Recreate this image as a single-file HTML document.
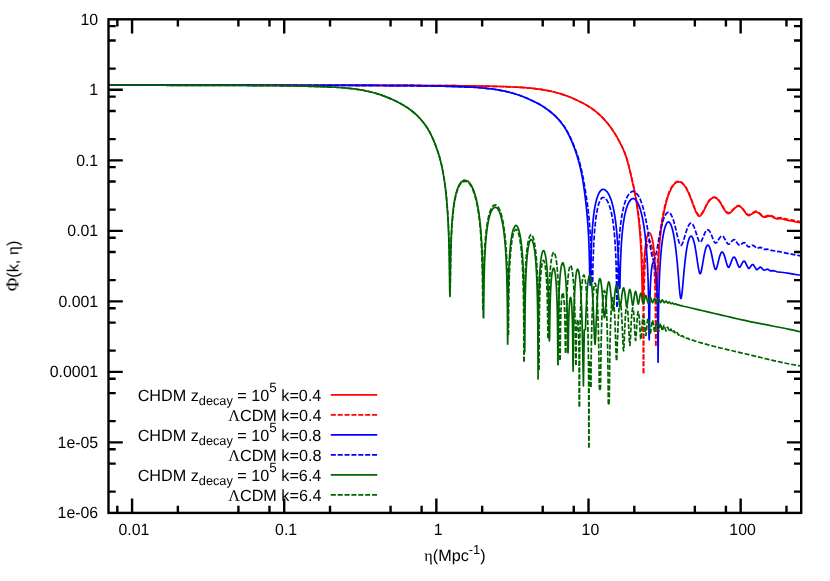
<!DOCTYPE html>
<html><head><meta charset="utf-8"><title>plot</title>
<style>
html,body{margin:0;padding:0;background:#fff;}
svg{display:block;}
text{text-rendering:geometricPrecision;font-family:"Liberation Sans",sans-serif;font-size:16.2px;fill:#000;}
</style></head><body>
<svg width="830" height="581" viewBox="0 0 830 581">
<rect width="830" height="581" fill="#fff"/>
<clipPath id="cp"><rect x="108.5" y="19.3" width="692.70" height="493.60"/></clipPath>
<g clip-path="url(#cp)" fill="none" stroke-linejoin="round" stroke-linecap="butt">
<path d="M108.50 85.19 L112.54 85.19 L116.58 85.19 L120.62 85.19 L124.67 85.19 L128.71 85.19 L132.75 85.19 L136.79 85.19 L140.83 85.19 L144.87 85.19 L148.91 85.19 L152.96 85.19 L157.00 85.19 L161.04 85.19 L165.08 85.19 L169.12 85.19 L173.16 85.19 L177.20 85.19 L181.25 85.19 L185.29 85.19 L189.33 85.19 L193.37 85.19 L197.41 85.20 L201.45 85.20 L205.49 85.20 L209.54 85.20 L213.58 85.20 L217.62 85.20 L221.66 85.20 L225.70 85.20 L229.74 85.20 L233.78 85.20 L237.83 85.20 L241.87 85.20 L245.91 85.20 L249.95 85.21 L253.99 85.21 L258.03 85.21 L262.07 85.21 L266.12 85.21 L270.16 85.21 L274.20 85.21 L278.24 85.22 L282.28 85.22 L286.32 85.22 L290.36 85.22 L294.41 85.22 L298.45 85.23 L302.49 85.23 L306.53 85.23 L310.57 85.23 L314.61 85.24 L318.65 85.24 L322.70 85.24 L326.74 85.25 L330.78 85.25 L334.82 85.25 L338.86 85.26 L342.90 85.26 L346.94 85.27 L350.99 85.27 L355.03 85.28 L359.07 85.29 L363.11 85.29 L367.15 85.30 L371.19 85.31 L375.23 85.32 L379.28 85.32 L383.32 85.33 L387.36 85.34 L391.40 85.35 L395.44 85.37 L399.48 85.38 L403.52 85.39 L407.57 85.41 L411.61 85.42 L415.65 85.44 L419.69 85.46 L423.73 85.48 L427.77 85.50 L431.81 85.52 L435.86 85.54 L439.90 85.57 L443.94 85.60 L447.98 85.63 L452.02 85.67 L456.06 85.71 L460.10 85.75 L464.15 85.80 L468.19 85.85 L472.23 85.90 L476.27 85.97 L480.31 86.03 L484.35 86.11 L488.39 86.20 L492.44 86.29 L496.48 86.40 L500.52 86.52 L504.56 86.66 L508.60 86.81 L512.64 86.99 L516.68 87.19 L520.73 87.41 L524.77 87.67 L528.81 87.99 L532.85 88.38 L536.89 88.86 L540.93 89.42 L544.97 90.08 L549.02 90.85 L552.94 91.72 L556.87 92.72 L560.79 93.86 L564.60 95.10 L568.41 96.50 L572.22 98.05 L575.92 99.68 L579.61 101.44 L583.19 103.24 L586.77 105.25 L590.24 107.43 L593.59 109.79 L596.82 112.35 L599.82 115.00 L602.71 117.82 L605.48 120.82 L608.14 124.01 L610.68 127.35 L612.99 130.69 L615.18 134.15 L617.26 137.68 L619.22 141.31 L621.07 144.95 L622.92 148.75 L624.53 152.55 L625.92 156.34 L627.19 160.43 L628.34 164.69 L629.38 168.82 L630.31 172.72 L631.23 176.79 L632.15 180.95 L633.08 185.07 L634.00 189.27 L634.81 193.29 L635.62 197.69 L636.31 201.82 L637.00 206.35 L637.58 210.50 L638.16 215.08 L638.62 219.14 L639.08 223.64 L639.54 228.68 L639.89 232.92 L640.24 237.65 L640.58 243.03 L640.81 247.07 L641.04 251.60 L641.28 256.74 L641.51 262.73 L641.74 269.92 L641.85 274.15 L641.97 278.97 L642.08 284.59 L642.20 291.36 L642.31 299.92 L642.68 303.00 L643.12 296.18 L643.24 289.28 L643.35 283.74 L643.47 279.13 L643.70 271.76 L643.93 266.02 L644.16 261.38 L644.51 255.79 L644.85 251.36 L645.32 246.72 L645.89 242.34 L646.70 238.01 L647.74 234.55 L648.43 233.30 L648.90 232.87 L649.36 232.76 L649.82 232.94 L650.51 233.77 L651.44 235.92 L652.48 239.99 L653.17 243.94 L653.75 248.24 L654.21 252.57 L654.67 258.02 L655.02 263.14 L655.25 267.25 L655.48 272.11 L655.71 277.99 L655.94 285.39 L656.06 289.93 L656.76 290.00 L657.44 289.82 L657.56 284.92 L657.67 280.67 L657.90 273.55 L658.13 267.71 L658.36 262.75 L658.60 258.43 L658.94 252.83 L659.29 248.02 L659.63 243.79 L660.10 238.84 L660.56 234.48 L661.14 229.67 L661.71 225.41 L662.41 220.85 L663.10 216.78 L663.91 212.52 L664.83 208.18 L665.87 203.85 L667.02 199.60 L668.29 195.54 L669.80 191.58 L671.64 187.77 L673.95 184.42 L676.72 182.21 L679.03 181.76 L681.46 182.60 L684.35 185.40 L686.54 188.82 L688.39 192.56 L690.00 196.41 L691.50 200.37 L692.89 204.20 L694.28 208.00 L695.78 211.71 L697.74 215.17 L698.78 216.06 L699.59 216.21 L700.51 215.82 L702.36 213.55 L704.21 209.99 L705.94 206.33 L707.90 202.69 L710.33 199.47 L712.75 197.76 L714.71 197.53 L716.68 198.37 L719.45 201.40 L721.64 204.97 L723.60 208.49 L725.80 211.85 L727.42 213.28 L728.57 213.56 L730.07 213.05 L732.96 210.19 L735.73 207.27 L737.81 206.15 L739.42 206.21 L741.39 207.50 L743.93 210.72 L746.35 214.02 L747.97 215.33 L749.24 215.57 L752.70 213.51 L755.24 211.99 L756.74 211.91 L758.94 213.16 L761.82 216.05 L763.67 217.23 L765.40 217.27 L769.22 215.86 L771.18 216.08 L774.64 218.17 L777.07 218.95 L781.11 218.53 L785.03 219.77 L788.96 220.70 L793.00 221.25 L796.93 222.23 L800.97 222.64 L801.20 222.67" stroke="#ff0000" stroke-width="1.7"/>
<g stroke="#ff0000" stroke-width="1.7"><path d="M108.50 85.19 L112.54 85.19 L116.58 85.19 L120.62 85.19 L124.67 85.19 L128.71 85.19 L132.75 85.19 L136.79 85.19 L140.83 85.19 L144.87 85.19 L148.91 85.19 L152.96 85.19 L157.00 85.19 L161.04 85.19 L165.08 85.19 L169.12 85.19 L173.16 85.19 L177.20 85.19 L181.25 85.19 L185.29 85.19 L189.33 85.19 L193.37 85.19 L197.41 85.20 L201.45 85.20 L205.49 85.20 L209.54 85.20 L213.58 85.20 L217.62 85.20 L221.66 85.20 L225.70 85.20 L229.74 85.20 L233.78 85.20 L237.83 85.20 L241.87 85.20 L245.91 85.20 L249.95 85.21 L253.99 85.21 L258.03 85.21 L262.07 85.21 L266.12 85.21 L270.16 85.21 L274.20 85.21 L278.24 85.22 L282.28 85.22 L286.32 85.22 L290.36 85.22 L294.41 85.22 L298.45 85.23 L302.49 85.23 L306.53 85.23 L310.57 85.23 L314.61 85.24 L318.65 85.24 L322.70 85.24 L326.74 85.25 L330.78 85.25 L334.82 85.25 L338.86 85.26 L342.90 85.26 L346.94 85.27 L350.99 85.27 L355.03 85.28 L359.07 85.29 L363.11 85.29 L367.15 85.30 L371.19 85.31 L375.23 85.32 L379.28 85.32 L383.32 85.33 L387.36 85.34 L391.40 85.35 L395.44 85.37 L399.48 85.38 L403.52 85.39 L407.57 85.41 L411.61 85.42 L415.65 85.44 L419.69 85.46 L423.73 85.48 L427.77 85.50 L431.81 85.52 L435.86 85.54 L439.90 85.57 L443.94 85.60 L447.98 85.63 L452.02 85.67 L456.06 85.71 L460.10 85.75 L464.15 85.80 L468.19 85.85 L472.23 85.90 L476.27 85.97 L480.31 86.03 L484.35 86.11 L488.39 86.20 L492.44 86.29 L496.48 86.40 L500.52 86.52 L504.56 86.66 L508.60 86.81 L512.64 86.99 L516.68 87.19 L520.73 87.41 L524.77 87.67 L528.81 87.99 L532.85 88.38 L536.89 88.86 L540.93 89.42 L544.97 90.08 L549.02 90.85 L552.94 91.72 L556.87 92.72 L560.79 93.86 L564.60 95.10 L568.41 96.50 L572.22 98.05 L575.92 99.68 L579.61 101.44 L583.19 103.24 L586.77 105.25 L590.24 107.43 L593.59 109.79 L596.82 112.35 L599.82 115.00 L602.71 117.82 L605.48 120.82 L608.14 124.00 L610.68 127.33 L612.99 130.65 L615.18 134.05 L617.26 137.52 L619.22 141.07 L621.07 144.64 L622.92 148.35 L624.53 152.07 L626.03 156.11 L627.30 160.16 L628.46 164.35 L629.50 168.41 L630.54 172.70 L631.46 176.65 L632.38 180.65 L633.31 184.55 L634.23 188.62 L635.16 193.07 L635.96 197.34 L636.66 201.31 L637.35 205.65 L638.04 210.41 L638.62 214.82 L639.20 219.71 L639.66 224.05 L640.12 228.88 L640.47 232.89 L640.81 237.31 L641.16 242.25 L641.51 247.87 L641.74 252.10 L641.97 256.85 L642.20 262.26 L642.43 268.63 L642.66 276.43 L642.78 281.12 L642.89 286.56 L643.01 293.08 L643.12 301.21 L643.24 312.10 L643.35 328.78 L643.47 366.84 L643.52 373.20" stroke-dasharray="5.001 1.850"/><path d="M643.52 373.20 L643.58 356.06 L643.70 325.96 L643.82 311.29 L643.93 301.58 L644.05 294.35 L644.16 288.61 L644.28 283.88 L644.39 279.86 L644.62 273.32 L644.85 268.18 L645.09 263.97 L645.43 258.92 L645.89 253.79 L646.47 249.08 L647.16 245.12 L648.09 241.90 L648.67 240.84 L649.13 240.46 L649.47 240.44 L649.94 240.75 L650.51 241.66 L651.32 243.99 L652.24 248.40 L652.82 252.40 L653.28 256.52 L653.75 261.80 L654.09 266.83 L654.32 270.89 L654.55 275.76 L654.78 281.74 L655.02 289.42 L655.13 294.24 L655.25 300.04 L655.36 307.30 L655.48 316.94 L655.59 331.18 L655.79 345.80" stroke-dasharray="5.042 1.866"/><path d="M655.79 345.80 L655.94 338.08 L656.06 320.76 L656.17 309.71 L656.29 301.57 L656.40 295.10 L656.52 289.74 L656.63 285.15 L656.75 281.13 L656.98 274.35 L657.21 268.73 L657.44 263.93 L657.67 259.73 L658.02 254.28 L658.36 249.56 L658.71 245.41 L659.17 240.53 L659.63 236.22 L660.21 231.45 L660.79 227.22 L661.48 222.68 L662.18 218.61 L662.98 214.33 L663.91 209.94 L664.83 206.00 L665.87 202.02 L667.02 198.06 L668.29 194.25 L669.80 190.50 L671.64 186.89 L674.07 183.57 L676.84 181.55 L679.26 181.23 L681.80 182.30 L684.69 185.31 L686.89 188.88 L688.73 192.70 L690.35 196.58 L691.85 200.53 L693.24 204.30 L694.74 208.25 L696.47 212.12 L698.09 214.48 L699.01 215.09 L699.82 215.14 L700.86 214.56 L703.17 211.27 L705.01 207.57 L706.86 203.85 L709.06 200.44 L711.94 197.66 L714.02 197.01 L715.98 197.47 L718.75 199.94 L721.06 203.39 L723.14 207.04 L725.34 210.55 L727.18 212.41 L728.45 212.81 L729.84 212.46 L732.84 209.69 L735.61 206.80 L737.69 205.64 L739.31 205.64 L741.16 206.72 L743.81 209.93 L746.24 213.19 L747.97 214.60 L749.24 214.82 L752.70 212.81 L755.36 211.28 L756.98 211.30 L760.21 213.66 L763.10 216.17 L764.71 216.54 L768.52 215.23 L770.49 215.08 L774.06 216.96 L776.72 218.03 L780.76 217.64 L784.69 218.68 L788.61 219.71 L792.66 220.16 L796.58 221.15 L800.62 221.55 L801.20 221.63" stroke-dasharray="5.018 1.857"/></g>
<path d="M108.50 85.19 L112.54 85.19 L116.58 85.19 L120.62 85.19 L124.67 85.19 L128.71 85.19 L132.75 85.19 L136.79 85.19 L140.83 85.19 L144.87 85.19 L148.91 85.20 L152.96 85.20 L157.00 85.20 L161.04 85.20 L165.08 85.20 L169.12 85.20 L173.16 85.20 L177.20 85.20 L181.25 85.20 L185.29 85.20 L189.33 85.20 L193.37 85.20 L197.41 85.20 L201.45 85.20 L205.49 85.21 L209.54 85.21 L213.58 85.21 L217.62 85.21 L221.66 85.21 L225.70 85.21 L229.74 85.21 L233.78 85.22 L237.83 85.22 L241.87 85.22 L245.91 85.22 L249.95 85.22 L253.99 85.23 L258.03 85.23 L262.07 85.23 L266.12 85.23 L270.16 85.24 L274.20 85.24 L278.24 85.24 L282.28 85.25 L286.32 85.25 L290.36 85.26 L294.41 85.26 L298.45 85.27 L302.49 85.27 L306.53 85.28 L310.57 85.28 L314.61 85.29 L318.65 85.30 L322.70 85.30 L326.74 85.31 L330.78 85.32 L334.82 85.33 L338.86 85.34 L342.90 85.35 L346.94 85.36 L350.99 85.37 L355.03 85.38 L359.07 85.40 L363.11 85.41 L367.15 85.43 L371.19 85.44 L375.23 85.46 L379.28 85.48 L383.32 85.50 L387.36 85.53 L391.40 85.55 L395.44 85.58 L399.48 85.61 L403.52 85.64 L407.57 85.68 L411.61 85.72 L415.65 85.76 L419.69 85.81 L423.73 85.86 L427.77 85.92 L431.81 85.99 L435.86 86.06 L439.90 86.14 L443.94 86.23 L447.98 86.33 L452.02 86.44 L456.06 86.57 L460.10 86.71 L464.15 86.87 L468.19 87.05 L472.23 87.26 L476.27 87.50 L480.31 87.77 L484.35 88.12 L488.39 88.53 L492.44 89.03 L496.48 89.62 L500.52 90.32 L504.44 91.11 L508.37 92.02 L512.30 93.06 L516.22 94.24 L520.03 95.54 L523.84 96.98 L527.54 98.53 L531.23 100.20 L534.93 101.98 L538.51 103.84 L541.97 105.84 L545.44 108.08 L548.78 110.50 L551.90 113.01 L554.90 115.71 L557.79 118.64 L560.45 121.72 L562.87 124.90 L565.18 128.37 L567.26 131.96 L569.11 135.55 L570.84 139.28 L572.46 143.09 L573.96 146.89 L575.46 150.93 L576.84 154.97 L578.11 159.16 L579.27 163.44 L580.31 167.75 L581.23 172.02 L582.04 176.14 L582.85 180.67 L583.54 184.95 L584.23 189.64 L584.81 193.91 L585.39 198.55 L585.85 202.58 L586.31 206.90 L586.77 211.55 L587.24 216.56 L587.58 220.65 L587.93 225.29 L588.27 230.65 L588.51 234.78 L588.74 239.48 L588.97 244.97 L589.20 251.57 L589.43 259.87 L589.54 265.01 L589.66 271.14 L589.78 278.75 L590.19 285.30 L590.58 280.22 L590.70 272.42 L590.82 266.22 L590.93 261.09 L591.05 256.70 L591.28 249.49 L591.51 243.70 L591.74 238.86 L591.97 234.72 L592.32 229.46 L592.66 225.04 L593.12 220.08 L593.59 215.93 L594.16 211.56 L594.86 207.23 L595.66 203.13 L596.70 198.97 L598.09 194.90 L600.05 191.26 L601.78 189.63 L603.17 189.24 L605.02 189.78 L607.21 191.82 L609.29 195.31 L610.91 199.27 L612.18 203.37 L613.22 207.56 L614.02 211.48 L614.72 215.44 L615.41 220.11 L615.99 224.73 L616.45 229.05 L616.91 234.13 L617.26 238.61 L617.60 243.86 L617.83 247.94 L618.07 252.65 L618.30 258.21 L618.53 265.00 L618.64 269.06 L618.76 273.72 L618.87 279.22 L618.99 285.93 L619.46 288.50 L619.91 287.77 L620.03 280.81 L620.14 275.15 L620.26 270.39 L620.38 266.29 L620.61 259.46 L620.84 253.91 L621.07 249.25 L621.30 245.24 L621.65 240.11 L621.99 235.77 L622.45 230.89 L622.92 226.78 L623.49 222.43 L624.19 218.09 L624.99 213.93 L626.03 209.66 L627.30 205.66 L629.04 201.87 L631.00 199.38 L632.50 198.57 L633.89 198.62 L635.50 199.63 L637.58 202.48 L639.31 206.38 L640.58 210.27 L641.62 214.24 L642.55 218.48 L643.35 222.87 L644.05 227.25 L644.62 231.42 L645.20 236.19 L645.66 240.55 L646.12 245.50 L646.47 249.70 L646.82 254.45 L647.16 259.90 L647.39 264.03 L647.63 268.69 L647.86 274.03 L648.09 280.31 L648.32 287.94 L648.43 292.49 L648.55 297.73 L648.67 303.94 L648.78 311.57 L648.90 321.53 L649.01 336.01 L649.21 339.80 L649.47 328.18 L649.59 317.48 L649.70 309.74 L649.82 303.71 L649.94 298.80 L650.05 294.68 L650.28 288.08 L650.51 282.97 L650.74 278.87 L651.09 274.06 L651.55 269.37 L652.24 264.88 L652.82 262.82 L653.17 262.19 L653.40 262.01 L653.63 262.00 L653.86 262.18 L654.21 262.78 L654.78 264.72 L655.48 268.82 L655.94 272.96 L656.29 277.11 L656.63 282.51 L656.86 287.10 L657.09 292.85 L657.33 300.36 L657.44 305.12 L657.56 310.90 L657.67 318.20 L657.79 328.05 L657.90 343.02 L658.08 362.20 L658.25 344.28 L658.36 327.97 L658.48 317.25 L658.60 309.22 L658.71 302.79 L658.83 297.41 L658.94 292.79 L659.06 288.73 L659.29 281.85 L659.52 276.13 L659.75 271.24 L659.98 266.98 L660.33 261.45 L660.67 256.73 L661.02 252.61 L661.48 247.86 L661.94 243.79 L662.52 239.44 L663.21 235.12 L664.02 231.05 L665.06 227.10 L666.45 223.69 L667.49 222.34 L668.18 221.97 L668.87 222.03 L669.68 222.64 L670.84 224.55 L672.22 228.55 L673.26 232.87 L674.07 237.11 L674.76 241.41 L675.34 245.51 L675.92 250.13 L676.38 254.21 L676.84 258.65 L677.30 263.45 L677.76 268.61 L678.11 272.67 L678.46 276.87 L678.80 281.12 L679.15 285.32 L679.50 289.31 L679.96 293.93 L680.42 297.18 L680.65 298.11 L680.77 298.38 L680.88 298.51 L681.00 298.50 L681.11 298.35 L681.34 297.66 L681.92 293.99 L682.38 289.64 L682.84 284.62 L683.31 279.38 L683.77 274.21 L684.23 269.27 L684.69 264.65 L685.15 260.41 L685.73 255.63 L686.31 251.43 L687.00 247.13 L687.81 243.08 L688.96 238.96 L689.89 237.00 L690.58 236.27 L691.04 236.12 L691.50 236.24 L692.08 236.79 L693.01 238.59 L694.16 242.43 L695.08 246.74 L695.89 251.35 L696.58 255.82 L697.28 260.56 L697.97 265.25 L698.66 269.40 L699.36 272.40 L699.70 273.28 L699.93 273.60 L700.16 273.70 L700.40 273.57 L700.74 272.98 L701.55 270.03 L702.36 265.65 L703.05 261.47 L703.74 257.39 L704.55 253.13 L705.59 248.85 L706.63 246.14 L707.21 245.37 L707.67 245.12 L708.13 245.15 L708.71 245.60 L709.52 246.98 L710.79 250.85 L711.71 254.79 L712.52 258.75 L713.33 262.79 L714.25 266.76 L714.94 268.70 L715.29 269.20 L715.52 269.35 L715.75 269.34 L716.10 269.03 L716.68 267.84 L717.83 263.68 L718.75 259.78 L719.91 255.56 L720.95 253.05 L721.53 252.30 L721.99 252.05 L722.45 252.10 L723.03 252.61 L723.95 254.38 L725.22 258.36 L726.26 262.25 L727.53 266.16 L728.11 267.10 L728.45 267.31 L728.80 267.27 L729.26 266.82 L730.88 262.86 L732.26 259.08 L733.19 257.50 L733.77 257.08 L734.23 257.07 L734.81 257.48 L735.84 259.29 L737.23 263.09 L738.50 266.28 L739.08 267.08 L739.42 267.27 L739.77 267.25 L740.23 266.89 L742.20 263.13 L743.23 261.50 L743.81 261.11 L744.27 261.11 L744.85 261.51 L746.70 265.10 L747.97 267.74 L748.55 268.33 L748.89 268.43 L749.35 268.27 L751.78 265.04 L752.47 264.57 L752.93 264.56 L753.51 264.90 L755.59 268.33 L756.40 269.44 L756.86 269.72 L757.32 269.69 L759.75 267.31 L760.32 267.14 L761.02 267.35 L763.56 269.98 L764.25 270.24 L767.02 269.18 L767.94 269.34 L770.49 270.90 L773.83 270.68 L777.07 271.79 L781.11 272.25 L785.15 272.78 L789.19 273.46 L793.23 274.13 L797.27 274.72 L801.20 275.26" stroke="#0000ff" stroke-width="1.7"/>
<g stroke="#0000ff" stroke-width="1.7"><path d="M108.50 85.19 L112.54 85.19 L116.58 85.19 L120.62 85.19 L124.67 85.19 L128.71 85.19 L132.75 85.19 L136.79 85.19 L140.83 85.19 L144.87 85.19 L148.91 85.20 L152.96 85.20 L157.00 85.20 L161.04 85.20 L165.08 85.20 L169.12 85.20 L173.16 85.20 L177.20 85.20 L181.25 85.20 L185.29 85.20 L189.33 85.20 L193.37 85.20 L197.41 85.20 L201.45 85.20 L205.49 85.21 L209.54 85.21 L213.58 85.21 L217.62 85.21 L221.66 85.21 L225.70 85.21 L229.74 85.21 L233.78 85.22 L237.83 85.22 L241.87 85.22 L245.91 85.22 L249.95 85.22 L253.99 85.23 L258.03 85.23 L262.07 85.23 L266.12 85.23 L270.16 85.24 L274.20 85.24 L278.24 85.24 L282.28 85.25 L286.32 85.25 L290.36 85.26 L294.41 85.26 L298.45 85.27 L302.49 85.27 L306.53 85.28 L310.57 85.28 L314.61 85.29 L318.65 85.30 L322.70 85.30 L326.74 85.31 L330.78 85.32 L334.82 85.33 L338.86 85.34 L342.90 85.35 L346.94 85.36 L350.99 85.37 L355.03 85.38 L359.07 85.40 L363.11 85.41 L367.15 85.43 L371.19 85.44 L375.23 85.46 L379.28 85.48 L383.32 85.50 L387.36 85.53 L391.40 85.55 L395.44 85.58 L399.48 85.61 L403.52 85.64 L407.57 85.68 L411.61 85.72 L415.65 85.76 L419.69 85.81 L423.73 85.86 L427.77 85.92 L431.81 85.99 L435.86 86.06 L439.90 86.14 L443.94 86.23 L447.98 86.33 L452.02 86.44 L456.06 86.57 L460.10 86.71 L464.15 86.87 L468.19 87.05 L472.23 87.26 L476.27 87.50 L480.31 87.77 L484.35 88.12 L488.39 88.53 L492.44 89.03 L496.48 89.62 L500.52 90.32 L504.44 91.11 L508.37 92.02 L512.30 93.06 L516.22 94.24 L520.03 95.54 L523.84 96.98 L527.54 98.53 L531.23 100.20 L534.93 101.98 L538.51 103.84 L541.97 105.84 L545.44 108.07 L548.78 110.48 L552.02 113.07 L555.02 115.74 L557.91 118.62 L560.56 121.62 L563.10 124.88 L565.41 128.31 L567.49 131.85 L569.45 135.60 L571.19 139.26 L572.80 142.96 L574.42 146.93 L575.92 150.80 L577.31 154.73 L578.58 158.77 L579.73 162.86 L580.77 166.94 L581.69 170.91 L582.62 175.24 L583.43 179.37 L584.23 183.83 L584.93 187.93 L585.62 192.29 L586.31 196.89 L586.89 200.88 L587.47 204.97 L588.04 209.43 L588.51 213.43 L588.97 217.92 L589.43 223.05 L589.78 227.45 L590.12 232.48 L590.47 238.37 L590.70 242.96 L590.93 248.27 L591.16 254.61 L591.39 262.48 L591.51 267.28 L591.62 272.92 L591.74 279.78 L592.21 282.00" stroke-dasharray="4.990 1.846"/><path d="M592.21 282.00 L592.66 281.39 L592.78 274.47 L592.89 268.83 L593.01 264.07 L593.12 259.95 L593.36 253.09 L593.59 247.50 L593.82 242.80 L594.05 238.74 L594.39 233.56 L594.74 229.18 L595.20 224.26 L595.66 220.14 L596.24 215.82 L596.93 211.58 L597.74 207.63 L598.78 203.75 L600.28 200.00 L601.67 198.06 L602.59 197.48 L603.86 197.50 L605.48 198.47 L607.44 201.10 L609.17 204.98 L610.44 209.00 L611.48 213.29 L612.29 217.44 L612.99 221.76 L613.56 226.08 L614.02 230.16 L614.49 234.99 L614.83 239.27 L615.18 244.33 L615.53 250.47 L615.76 255.42 L615.99 261.37 L616.22 268.82 L616.33 273.38 L616.45 278.75 L616.56 285.29 L616.68 293.63 L616.80 305.16 L617.05 306.80" stroke-dasharray="5.069 1.876"/><path d="M617.05 306.80 L617.37 297.17 L617.49 287.85 L617.60 280.72 L617.72 274.94 L617.83 270.08 L617.95 265.90 L618.18 258.94 L618.41 253.28 L618.64 248.53 L618.87 244.42 L619.22 239.17 L619.57 234.71 L620.03 229.68 L620.49 225.40 L621.07 220.86 L621.76 216.27 L622.57 211.82 L623.49 207.61 L624.53 203.74 L625.92 199.66 L627.65 195.93 L630.07 192.69 L632.15 191.46 L633.89 191.42 L635.85 192.50 L638.39 195.69 L640.24 199.41 L641.74 203.39 L643.01 207.51 L644.05 211.45 L644.97 215.41 L645.89 219.83 L646.70 224.08 L647.51 228.69 L648.20 232.90 L648.90 237.32 L649.59 241.86 L650.28 246.39 L650.97 250.72 L651.78 255.13 L652.71 258.65 L653.17 259.57 L653.51 259.88 L653.75 259.93 L654.09 259.75 L654.55 259.06 L655.59 255.86 L656.52 251.63 L657.33 247.34 L658.13 242.86 L658.94 238.44 L659.75 234.22 L660.67 229.78 L661.60 225.82 L662.75 221.57 L664.14 217.54 L665.99 213.95 L667.37 212.56 L668.41 212.21 L669.33 212.46 L670.49 213.55 L672.34 217.08 L673.72 221.13 L674.88 225.33 L675.92 229.62 L676.84 233.66 L677.76 237.63 L678.80 241.58 L679.84 244.34 L680.42 245.15 L680.77 245.35 L681.11 245.33 L681.69 244.84 L682.73 242.86 L684.00 239.07 L685.15 235.06 L686.31 231.18 L687.69 227.27 L689.31 224.25 L690.23 223.38 L691.04 223.15 L691.74 223.35 L692.66 224.24 L694.39 227.72 L695.78 231.85 L697.05 236.05 L698.43 240.03 L699.36 241.68 L699.82 242.06 L700.28 242.14 L700.74 241.90 L701.67 240.63 L703.28 236.88 L704.78 233.15 L706.28 230.53 L707.09 229.86 L707.79 229.73 L708.59 230.04 L709.75 231.38 L711.48 235.03 L712.98 238.94 L714.48 242.07 L715.18 242.82 L715.64 243.01 L716.10 242.95 L716.91 242.30 L719.10 238.70 L720.72 236.44 L721.64 235.87 L722.45 235.91 L723.37 236.57 L725.45 240.02 L727.42 243.48 L728.22 244.16 L728.80 244.26 L729.49 243.99 L732.15 240.81 L733.30 239.82 L734.00 239.65 L734.81 239.92 L737.35 243.17 L738.73 244.84 L739.42 245.18 L740.23 245.08 L743.23 242.73 L744.04 242.58 L744.85 242.91 L747.51 246.12 L748.43 246.89 L749.12 247.02 L752.13 245.30 L752.93 245.27 L754.09 245.94 L756.40 248.15 L757.21 248.38 L759.98 247.35 L761.13 247.59 L763.90 249.28 L767.60 249.18 L771.18 250.44 L775.22 250.97 L779.26 251.67 L783.19 252.53 L787.23 253.31 L791.27 254.06 L795.31 254.85 L799.24 255.66 L801.20 256.11" stroke-dasharray="4.987 1.845"/></g>
<path d="M108.50 85.22 L112.54 85.23 L116.58 85.23 L120.62 85.23 L124.66 85.23 L128.71 85.24 L132.75 85.24 L136.79 85.24 L140.83 85.25 L144.87 85.25 L148.91 85.25 L152.95 85.26 L156.99 85.26 L161.03 85.27 L165.08 85.27 L169.12 85.28 L173.16 85.28 L177.20 85.29 L181.24 85.30 L185.28 85.31 L189.32 85.31 L193.36 85.32 L197.40 85.33 L201.44 85.34 L205.49 85.35 L209.53 85.36 L213.57 85.37 L217.61 85.39 L221.65 85.40 L225.69 85.41 L229.73 85.43 L233.77 85.45 L237.81 85.46 L241.86 85.48 L245.90 85.51 L249.94 85.53 L253.98 85.56 L258.02 85.58 L262.06 85.61 L266.10 85.65 L270.14 85.68 L274.18 85.72 L278.23 85.77 L282.27 85.81 L286.31 85.87 L290.35 85.93 L294.39 85.99 L298.43 86.06 L302.47 86.14 L306.51 86.23 L310.55 86.33 L314.60 86.44 L318.64 86.57 L322.68 86.71 L326.72 86.87 L330.76 87.05 L334.80 87.26 L338.84 87.50 L342.88 87.77 L346.92 88.12 L350.91 88.53 L354.89 89.02 L358.87 89.60 L362.86 90.28 L366.78 91.06 L370.71 91.96 L374.63 92.99 L378.50 94.14 L382.31 95.43 L386.06 96.84 L389.82 98.39 L393.51 100.05 L397.15 101.80 L400.73 103.64 L404.25 105.66 L407.66 107.85 L410.95 110.23 L414.06 112.75 L417.07 115.49 L419.89 118.39 L422.55 121.47 L425.03 124.71 L427.28 128.04 L429.36 131.55 L431.21 135.10 L432.94 138.84 L434.50 142.57 L435.94 146.35 L437.33 150.27 L438.60 154.11 L439.75 158.02 L440.79 162.01 L441.72 166.00 L442.58 170.21 L443.33 174.30 L444.03 178.51 L444.66 182.83 L445.24 187.22 L445.76 191.63 L446.22 196.02 L446.62 200.30 L446.97 204.38 L447.32 208.93 L447.60 213.16 L447.89 217.92 L448.12 222.20 L448.36 227.02 L448.53 231.09 L448.70 235.67 L448.87 240.91 L449.05 247.05 L449.16 251.83 L449.28 257.38 L449.39 264.01 L449.51 272.28 L449.57 277.35 L449.63 283.36 L449.68 290.75 L449.90 296.50 L450.09 296.25 L450.15 288.04 L450.20 281.59 L450.26 276.28 L450.32 271.77 L450.43 264.38 L450.55 258.46 L450.66 253.54 L450.78 249.31 L450.95 243.95 L451.13 239.38 L451.30 235.23 L451.53 230.49 L451.76 226.45 L452.05 222.12 L452.40 217.71 L452.80 213.36 L453.26 209.18 L453.78 205.21 L454.42 201.16 L455.17 197.20 L456.09 193.26 L457.25 189.40 L458.75 185.68 L460.88 182.24 L464.29 180.05 L468.16 181.30 L470.75 184.42 L472.66 188.05 L474.16 191.88 L475.37 195.74 L476.41 199.74 L477.28 203.67 L478.03 207.64 L478.72 211.88 L479.30 215.96 L479.82 220.18 L480.28 224.48 L480.68 228.79 L481.03 233.03 L481.32 237.04 L481.61 241.64 L481.84 245.86 L482.07 250.72 L482.24 254.93 L482.42 259.77 L482.59 265.50 L482.70 269.99 L482.82 275.22 L482.94 281.51 L483.05 289.39 L483.11 294.23 L483.17 299.96 L483.22 307.01 L483.28 316.14 L483.45 317.80 L483.63 317.73 L483.69 309.34 L483.74 302.78 L483.80 297.39 L483.86 292.82 L483.97 285.35 L484.09 279.38 L484.21 274.41 L484.32 270.15 L484.49 264.74 L484.67 260.19 L484.90 255.06 L485.13 250.72 L485.42 246.10 L485.76 241.44 L486.17 236.88 L486.63 232.52 L487.15 228.42 L487.78 224.27 L488.54 220.28 L489.52 216.18 L490.79 212.29 L492.69 208.67 L495.12 207.07 L497.43 208.34 L499.45 211.81 L500.77 215.67 L501.81 219.76 L502.62 223.77 L503.31 227.94 L503.89 232.09 L504.41 236.49 L504.82 240.48 L505.22 245.12 L505.57 249.78 L505.85 254.30 L506.09 258.47 L506.32 263.29 L506.49 267.47 L506.66 272.31 L506.84 278.03 L506.95 282.52 L507.07 287.78 L507.18 294.10 L507.30 302.05 L507.36 306.95 L507.41 312.76 L507.47 319.93 L507.53 329.29 L507.59 342.79 L507.69 344.20 L507.82 337.15 L507.87 325.66 L507.93 317.35 L507.99 310.84 L508.05 305.48 L508.11 300.94 L508.22 293.51 L508.34 287.58 L508.45 282.64 L508.57 278.42 L508.74 273.06 L508.91 268.55 L509.14 263.49 L509.38 259.23 L509.66 254.72 L510.01 250.21 L510.41 245.84 L510.88 241.74 L511.45 237.60 L512.20 233.45 L513.24 229.41 L515.09 225.80 L516.13 225.42 L517.46 226.62 L518.96 230.42 L519.94 234.59 L520.63 238.56 L521.21 242.71 L521.67 246.73 L522.08 250.92 L522.42 255.14 L522.71 259.23 L523.00 264.02 L523.23 268.52 L523.46 273.81 L523.64 278.49 L523.81 284.02 L523.92 288.34 L524.04 293.38 L524.15 299.39 L524.27 306.86 L524.33 311.40 L524.39 316.72 L524.44 323.15 L524.50 331.29 L524.56 342.37 L524.69 352.00 L524.79 351.86 L524.85 337.72 L524.91 328.11 L524.96 320.83 L525.02 314.97 L525.08 310.06 L525.14 305.85 L525.25 298.89 L525.37 293.26 L525.48 288.54 L525.60 284.50 L525.77 279.34 L525.94 275.00 L526.18 270.13 L526.41 266.04 L526.69 261.73 L527.04 257.45 L527.45 253.39 L527.96 249.24 L528.66 245.15 L529.70 241.28 L530.79 239.52 L531.43 239.46 L532.47 240.84 L533.62 244.73 L534.37 248.86 L534.95 253.16 L535.41 257.52 L535.82 262.21 L536.10 266.22 L536.39 270.97 L536.62 275.46 L536.86 280.79 L537.03 285.53 L537.20 291.18 L537.32 295.63 L537.43 300.84 L537.55 307.11 L537.66 315.00 L537.72 319.87 L537.78 325.64 L537.84 332.75 L537.89 342.00 L537.95 355.29 L538.06 378.90 L538.13 369.78 L538.18 350.72 L538.24 339.09 L538.30 330.70 L538.36 324.15 L538.41 318.77 L538.47 314.21 L538.59 306.78 L538.70 300.85 L538.82 295.94 L538.93 291.75 L539.11 286.45 L539.28 282.03 L539.51 277.10 L539.74 273.00 L540.03 268.73 L540.38 264.55 L540.84 260.18 L541.42 256.15 L542.34 252.17 L543.21 250.61 L543.67 250.56 L544.42 251.61 L545.46 255.50 L546.09 259.52 L546.61 263.99 L547.02 268.40 L547.36 273.04 L547.65 277.70 L547.88 282.11 L548.11 287.32 L548.29 291.95 L548.46 297.41 L548.57 301.67 L548.69 306.62 L548.81 312.50 L548.92 319.74 L548.98 324.11 L549.04 329.18 L549.09 335.24 L549.36 341.00 L549.61 337.73 L549.67 331.53 L549.73 326.41 L549.79 322.06 L549.90 314.94 L550.02 309.26 L550.13 304.56 L550.31 298.79 L550.48 294.09 L550.71 289.00 L550.94 284.88 L551.23 280.73 L551.63 276.30 L552.15 272.33 L553.14 268.60 L553.54 268.22 L553.89 268.38 L554.58 270.07 L555.33 274.39 L555.79 278.70 L556.14 283.07 L556.43 287.70 L556.66 292.30 L556.83 296.44 L557.00 301.40 L557.18 307.48 L557.29 312.43 L557.41 318.43 L557.52 325.99 L557.58 330.64 L557.64 336.15 L557.70 342.91 L557.75 351.63 L557.81 363.91 L557.93 364.70 L558.04 364.39 L558.10 351.86 L558.16 342.99 L558.22 336.11 L558.27 330.50 L558.33 325.77 L558.39 321.67 L558.50 314.84 L558.62 309.28 L558.73 304.61 L558.85 300.58 L559.02 295.44 L559.20 291.12 L559.43 286.28 L559.66 282.24 L559.95 278.05 L560.29 273.99 L560.76 269.82 L561.45 265.61 L562.37 262.98 L562.78 262.76 L563.24 263.16 L564.33 267.06 L564.97 271.46 L565.43 275.92 L565.78 280.14 L566.07 284.38 L566.36 289.45 L566.59 294.29 L566.76 298.51 L566.93 303.40 L567.11 309.16 L567.22 313.67 L567.34 318.90 L567.45 325.11 L567.57 332.79 L567.63 337.43 L567.68 342.84 L567.74 349.35 L567.99 353.00 L568.26 349.27 L568.32 343.54 L568.38 338.81 L568.43 334.78 L568.55 328.21 L568.66 323.02 L568.78 318.78 L568.95 313.68 L569.13 309.67 L569.36 305.55 L569.70 301.26 L570.28 297.74 L570.51 297.36 L570.63 297.38 L570.92 298.02 L571.49 302.22 L571.84 307.13 L572.07 311.86 L572.24 316.49 L572.42 322.48 L572.53 327.56 L572.65 333.95 L572.76 342.41 L572.82 347.87 L572.88 354.65 L572.94 363.52 L573.10 371.20 L573.28 360.23 L573.34 351.53 L573.40 344.70 L573.46 339.07 L573.51 334.29 L573.57 330.13 L573.69 323.13 L573.80 317.39 L573.92 312.53 L574.03 308.31 L574.21 302.90 L574.38 298.31 L574.61 293.16 L574.84 288.84 L575.13 284.35 L575.48 279.99 L575.94 275.57 L576.57 271.55 L577.32 269.31 L577.61 269.11 L577.96 269.34 L578.82 272.08 L579.46 276.19 L579.92 280.44 L580.27 284.43 L580.61 289.21 L580.90 293.90 L581.13 298.18 L581.36 303.03 L581.54 307.09 L581.71 311.57 L581.88 316.55 L582.06 322.12 L582.17 326.23 L583.43 386.00 L584.26 330.00 L585.46 329.65 L585.58 325.46 L585.75 319.81 L585.93 314.80 L586.10 310.31 L586.27 306.27 L586.50 301.49 L586.73 297.28 L587.02 292.73 L587.37 288.16 L587.77 283.86 L588.29 279.74 L589.22 275.80 L589.62 275.31 L589.91 275.39 L590.54 276.86 L591.29 281.02 L591.76 285.06 L592.16 289.65 L592.51 294.47 L592.80 299.17 L593.03 303.43 L593.26 308.13 L593.49 313.28 L593.66 317.43 L593.83 321.78 L594.01 326.25 L594.18 330.74 L594.35 335.04 L594.59 340.02 L594.87 343.88 L594.99 344.38 L595.05 344.38 L595.22 343.41 L595.51 339.11 L595.74 334.08 L595.91 329.84 L596.09 325.47 L596.26 321.13 L596.43 316.93 L596.61 312.91 L596.84 307.91 L597.07 303.35 L597.30 299.23 L597.59 294.69 L597.93 290.07 L598.34 285.75 L598.86 281.75 L599.61 278.83 L599.90 278.55 L600.13 278.67 L600.76 280.53 L601.40 284.59 L601.86 288.89 L602.26 293.49 L602.61 297.96 L602.96 302.75 L603.24 306.79 L603.59 311.34 L603.99 315.52 L604.34 317.45 L604.46 317.65 L604.57 317.60 L604.92 316.04 L605.38 311.37 L605.73 306.80 L606.02 302.81 L606.36 298.16 L606.71 293.92 L607.11 289.70 L607.63 285.58 L608.44 282.22 L608.73 281.93 L608.96 282.04 L609.54 283.66 L610.23 288.06 L610.69 292.34 L611.10 296.73 L611.44 300.72 L611.85 305.16 L612.37 309.32 L612.65 310.33 L612.77 310.42 L612.94 310.20 L613.64 305.74 L614.04 301.59 L614.44 297.24 L614.85 293.23 L615.37 289.06 L616.18 285.47 L616.46 285.11 L616.70 285.18 L617.22 286.47 L617.91 290.51 L618.43 294.92 L618.89 299.32 L619.35 303.39 L619.93 306.52 L620.10 306.80 L620.22 306.79 L620.51 306.11 L621.14 301.99 L621.60 297.92 L622.12 293.52 L622.81 289.33 L623.33 287.92 L623.57 287.82 L623.85 288.16 L624.72 292.10 L625.24 296.18 L625.70 300.21 L626.28 304.41 L626.63 305.68 L626.80 305.83 L626.97 305.63 L627.72 301.49 L628.24 297.13 L628.76 293.16 L629.51 289.79 L629.80 289.46 L630.03 289.60 L630.72 292.13 L631.30 296.23 L631.82 300.56 L632.46 304.57 L632.74 305.22 L632.86 305.22 L633.15 304.57 L633.84 300.19 L634.36 296.15 L635.11 292.09 L635.46 291.40 L635.63 291.37 L635.98 291.93 L636.79 296.04 L637.36 300.23 L638.06 303.82 L638.23 304.10 L638.34 304.12 L638.58 303.76 L639.38 299.46 L640.08 295.22 L640.65 293.38 L640.88 293.25 L641.17 293.59 L642.10 297.77 L642.79 301.80 L643.25 303.20 L643.42 303.27 L643.71 302.85 L644.58 298.91 L645.44 295.66 L645.73 295.41 L646.02 295.64 L647.06 299.63 L647.87 302.78 L648.10 303.02 L648.33 302.86 L649.43 298.87 L650.06 297.10 L650.29 296.94 L650.58 297.15 L651.74 301.01 L652.31 302.58 L652.55 302.72 L652.83 302.45 L654.22 298.69 L654.57 298.43 L654.97 298.75 L656.47 302.51 L656.70 302.61 L657.11 302.10 L658.32 298.98 L658.61 298.81 L658.95 299.12 L660.34 302.50 L660.63 302.60 L662.19 299.96 L662.48 299.95 L664.09 302.69 L664.44 302.68 L665.77 301.00 L666.17 301.08 L667.61 303.12 L668.08 303.02 L669.17 301.96 L669.69 302.17 L670.96 303.69 L672.52 302.89 L674.19 304.32 L675.64 303.79 L677.25 304.97 L678.64 304.66 L680.20 305.62 L681.58 305.50 L683.14 306.25 L687.13 307.00 L691.05 307.96 L694.98 308.93 L698.90 309.80 L702.83 310.71 L706.75 311.64 L710.68 312.58 L714.61 313.50 L718.53 314.42 L722.46 315.35 L726.38 316.27 L730.31 317.18 L734.23 318.08 L738.16 318.97 L742.08 319.84 L746.01 320.70 L749.94 321.55 L753.86 322.36 L757.79 323.15 L761.71 323.92 L765.70 324.69 L769.68 325.45 L773.66 326.21 L777.65 326.97 L781.63 327.75 L785.56 328.53 L789.48 329.34 L793.41 330.18 L797.33 331.05 L801.20 331.96" stroke="#006400" stroke-width="1.7"/>
<g stroke="#006400" stroke-width="1.7"><path d="M108.50 85.22 L112.54 85.23 L116.58 85.23 L120.62 85.23 L124.66 85.23 L128.71 85.24 L132.75 85.24 L136.79 85.24 L140.83 85.25 L144.87 85.25 L148.91 85.25 L152.95 85.26 L156.99 85.26 L161.03 85.27 L165.08 85.27 L169.12 85.28 L173.16 85.28 L177.20 85.29 L181.24 85.30 L185.28 85.30 L189.32 85.31 L193.36 85.32 L197.40 85.33 L201.44 85.34 L205.49 85.35 L209.53 85.36 L213.57 85.37 L217.61 85.38 L221.65 85.40 L225.69 85.41 L229.73 85.43 L233.77 85.45 L237.81 85.46 L241.86 85.48 L245.90 85.51 L249.94 85.53 L253.98 85.56 L258.02 85.58 L262.06 85.61 L266.10 85.65 L270.14 85.68 L274.18 85.72 L278.23 85.77 L282.27 85.81 L286.31 85.87 L290.35 85.92 L294.39 85.99 L298.43 86.06 L302.47 86.14 L306.51 86.23 L310.55 86.33 L314.60 86.44 L318.64 86.57 L322.68 86.71 L326.72 86.87 L330.76 87.05 L334.80 87.26 L338.84 87.50 L342.88 87.77 L346.92 88.11 L350.91 88.52 L354.89 89.01 L358.87 89.59 L362.86 90.27 L366.78 91.05 L370.71 91.95 L374.63 92.99 L378.50 94.14 L382.31 95.42 L386.06 96.83 L389.82 98.39 L393.51 100.05 L397.15 101.80 L400.73 103.63 L404.25 105.65 L407.66 107.84 L410.95 110.21 L414.06 112.74 L417.07 115.47 L419.89 118.37 L422.55 121.44 L425.03 124.67 L427.28 127.99 L429.36 131.49 L431.27 135.15 L433.00 138.88 L434.56 142.60 L436.00 146.36 L437.39 150.27 L438.66 154.09 L439.81 157.99 L440.85 161.96 L441.77 165.92 L442.64 170.10 L443.39 174.15 L444.08 178.31 L444.72 182.57 L445.30 186.89 L445.82 191.22 L446.28 195.51 L446.68 199.68 L447.09 204.32 L447.43 208.78 L447.72 212.92 L448.01 217.55 L448.24 221.69 L448.47 226.32 L448.70 231.60 L448.87 236.11 L449.05 241.25 L449.22 247.24 L449.34 251.87 L449.45 257.21 L449.57 263.54 L449.68 271.32 L449.74 276.02 L449.80 281.49 L449.86 288.08 L450.10 290.00" stroke-dasharray="4.985 1.844"/><path d="M450.10 290.00 L450.38 284.98 L450.43 279.18 L450.49 274.32 L450.55 270.14 L450.66 263.21 L450.78 257.59 L450.90 252.87 L451.01 248.81 L451.18 243.46 L451.36 238.80 L451.53 234.79 L451.76 230.21 L452.05 225.38 L452.34 221.29 L452.69 217.09 L453.09 212.94 L453.55 208.91 L454.13 204.70 L454.82 200.52 L455.63 196.55 L456.67 192.48 L457.94 188.68 L459.67 185.01 L462.27 181.91 L466.25 181.17 L469.43 183.63 L471.62 187.10 L473.29 190.89 L474.62 194.78 L475.72 198.72 L476.64 202.69 L477.45 206.77 L478.14 210.85 L478.78 215.19 L479.30 219.28 L479.76 223.46 L480.16 227.64 L480.51 231.74 L480.86 236.45 L481.15 241.00 L481.38 245.17 L481.61 249.98 L481.78 254.14 L481.95 258.93 L482.13 264.58 L482.24 269.01 L482.36 274.16 L482.47 280.33 L482.59 288.03 L482.65 292.74 L482.70 298.29 L482.76 305.06 L483.00 310.00" stroke-dasharray="5.037 1.864"/><path d="M483.00 310.00 L483.22 306.34 L483.28 299.45 L483.34 293.84 L483.40 289.11 L483.46 285.03 L483.57 278.88 L483.69 273.88 L483.80 269.60 L483.97 264.15 L484.15 259.57 L484.38 254.40 L484.61 250.03 L484.90 245.38 L485.24 240.67 L485.59 236.68 L486.00 232.68 L486.51 228.35 L487.09 224.34 L487.78 220.35 L488.65 216.33 L489.75 212.39 L491.25 208.57 L493.62 205.34 L495.92 204.88 L498.75 207.80 L500.37 211.47 L501.58 215.48 L502.51 219.41 L503.31 223.63 L503.95 227.61 L504.53 231.86 L505.05 236.35 L505.45 240.40 L505.85 245.10 L506.20 249.80 L506.49 254.34 L506.72 258.51 L506.95 263.33 L507.12 267.49 L507.30 272.27 L507.47 277.92 L507.59 282.33 L507.70 287.46 L507.82 293.60 L507.93 301.23 L507.99 305.88 L508.05 311.35 L508.11 317.99 L508.16 326.45 L508.35 335.00" stroke-dasharray="5.064 1.874"/><path d="M508.35 335.00 L508.51 330.12 L508.57 320.93 L508.63 313.89 L508.68 308.20 L508.74 303.41 L508.80 299.29 L508.91 292.45 L509.03 286.91 L509.14 282.26 L509.26 278.26 L509.43 273.16 L509.61 268.85 L509.84 264.00 L510.07 259.92 L510.36 255.60 L510.70 251.28 L511.11 247.12 L511.63 242.80 L512.26 238.69 L513.13 234.60 L514.51 230.73 L515.78 229.43 L516.71 229.72 L518.44 233.16 L519.42 237.07 L520.17 241.30 L520.75 245.52 L521.21 249.68 L521.61 254.08 L521.96 258.60 L522.25 263.07 L522.48 267.25 L522.71 272.16 L522.88 276.47 L523.06 281.53 L523.23 287.62 L523.35 292.50 L523.46 298.30 L523.58 305.49 L523.64 309.83 L523.69 314.89 L523.75 320.95 L523.81 328.52 L523.87 338.60 L523.92 353.70 L524.01 361.60" stroke-dasharray="5.050 1.869"/><path d="M524.01 361.60 L524.10 356.60 L524.15 340.38 L524.21 329.84 L524.27 322.03 L524.33 315.81 L524.39 310.66 L524.44 306.26 L524.56 299.01 L524.67 293.18 L524.79 288.30 L524.91 284.12 L525.08 278.79 L525.25 274.31 L525.48 269.26 L525.71 265.00 L526.00 260.51 L526.35 256.01 L526.75 251.69 L527.21 247.66 L527.79 243.68 L528.60 239.58 L529.87 235.76 L530.97 234.57 L531.77 234.81 L533.33 237.99 L534.32 242.07 L535.01 246.16 L535.59 250.54 L536.05 254.85 L536.45 259.38 L536.80 263.99 L537.09 268.51 L537.32 272.70 L537.55 277.55 L537.72 281.77 L537.89 286.64 L538.07 292.40 L538.18 296.91 L538.30 302.17 L538.41 308.47 L538.53 316.34 L538.59 321.15 L538.64 326.84 L538.70 333.79 L538.76 342.74 L538.82 355.35 L538.93 370.00" stroke-dasharray="4.989 1.846"/><path d="M538.93 370.00 L539.05 355.11 L539.11 342.90 L539.16 334.25 L539.22 327.56 L539.28 322.10 L539.34 317.51 L539.45 310.07 L539.57 304.18 L539.68 299.33 L539.80 295.23 L539.97 290.07 L540.15 285.81 L540.38 281.11 L540.67 276.40 L541.01 271.97 L541.47 267.55 L542.11 263.48 L543.03 260.61 L543.44 260.32 L543.84 260.59 L544.71 263.11 L545.40 267.33 L545.86 271.56 L546.21 275.72 L546.50 280.06 L546.73 284.29 L546.96 289.44 L547.13 294.13 L547.30 299.81 L547.42 304.37 L547.54 309.80 L547.65 316.48 L547.71 320.50 L547.77 325.14 L547.82 330.64 L547.88 337.38 L548.11 338.00" stroke-dasharray="4.960 1.835"/><path d="M548.11 338.00 L548.34 337.59 L548.40 330.69 L548.46 325.06 L548.52 320.31 L548.57 316.19 L548.69 309.33 L548.81 303.73 L548.92 299.01 L549.04 294.95 L549.21 289.74 L549.38 285.34 L549.61 280.39 L549.84 276.23 L550.13 271.86 L550.48 267.54 L550.88 263.47 L551.40 259.43 L552.15 255.41 L553.31 252.46 L553.83 252.23 L554.46 252.83 L555.68 256.79 L556.37 260.95 L556.89 265.18 L557.29 269.29 L557.64 273.51 L557.93 277.65 L558.22 282.48 L558.45 286.99 L558.68 292.25 L558.85 296.83 L559.02 302.14 L559.14 306.22 L559.25 310.85 L559.37 316.23 L559.49 322.63 L559.60 330.56 L559.66 335.38 L559.72 341.03 L559.77 347.88 L559.83 356.59 L560.01 360.00" stroke-dasharray="4.955 1.833"/><path d="M560.01 360.00 L560.24 351.49 L560.29 344.71 L560.35 339.25 L560.41 334.70 L560.52 327.41 L560.64 321.75 L560.76 317.17 L560.93 311.68 L561.10 307.38 L561.33 302.92 L561.62 298.83 L562.08 294.72 L562.54 292.86 L562.72 292.66 L562.89 292.71 L563.30 293.86 L563.87 298.29 L564.22 303.00 L564.45 307.35 L564.62 311.51 L564.80 316.73 L564.91 321.02 L565.03 326.24 L565.14 332.79 L565.26 341.46 L565.32 347.07 L565.59 352.80" stroke-dasharray="4.987 1.845"/><path d="M565.59 352.80 L565.84 349.51 L565.89 342.85 L565.95 337.35 L566.01 332.65 L566.07 328.55 L566.18 321.66 L566.30 315.99 L566.41 311.18 L566.53 307.00 L566.70 301.62 L566.87 297.05 L567.11 291.89 L567.34 287.55 L567.63 282.99 L567.97 278.51 L568.38 274.36 L568.90 270.38 L569.76 266.44 L570.34 265.42 L570.68 265.38 L571.26 266.27 L572.19 270.28 L572.76 274.65 L573.17 278.74 L573.51 283.08 L573.80 287.41 L574.03 291.44 L574.26 296.10 L574.44 300.10 L574.61 304.65 L574.78 309.89 L574.96 316.03 L575.07 320.81 L575.19 326.32 L575.30 332.85 L575.42 340.86 L575.48 345.69 L575.53 351.30 L575.59 358.03 L575.84 365.00" stroke-dasharray="4.953 1.832"/><path d="M575.84 365.00 L576.11 359.03 L576.17 353.57 L576.23 349.08 L576.34 342.07 L576.46 336.77 L576.57 332.63 L576.75 327.93 L576.98 323.64 L577.38 319.84 L577.55 319.36 L577.61 319.34 L577.73 319.50 L578.07 321.73 L578.36 325.94 L578.59 331.46 L578.77 337.49 L578.88 342.91 L579.00 350.08 L579.06 354.66 L579.11 360.25 L579.17 367.31 L579.23 376.83 L579.29 391.18 L579.38 406.40" stroke-dasharray="4.918 1.820"/><path d="M579.38 406.40 L579.46 395.00 L579.52 377.99 L579.58 366.94 L579.63 358.71 L579.69 352.12 L579.75 346.62 L579.81 341.90 L579.86 337.75 L579.98 330.72 L580.09 324.89 L580.21 319.92 L580.33 315.58 L580.50 309.98 L580.67 305.22 L580.85 301.09 L581.08 296.38 L581.31 292.38 L581.60 288.20 L581.94 284.15 L582.40 280.10 L583.21 276.02 L583.67 275.18 L583.90 275.13 L584.31 275.64 L585.23 279.79 L585.75 284.12 L586.16 288.66 L586.50 293.52 L586.79 298.40 L587.02 302.94 L587.25 308.19 L587.43 312.69 L587.60 317.77 L587.77 323.59 L587.89 327.99 L588.00 332.90 L588.12 338.46 L588.23 344.88 L588.35 352.48 L588.41 356.89 L588.47 361.85 L588.52 367.54 L588.58 374.23 L588.64 382.39 L588.70 392.97 L588.75 408.27 L588.81 437.54 L588.85 447.60" stroke-dasharray="4.971 1.839"/><path d="M588.85 447.60 L588.93 417.20 L588.99 401.14 L589.04 391.25 L589.10 384.28 L589.16 379.01 L589.22 374.88 L589.33 368.88 L589.50 363.52 L589.74 360.64 L589.79 360.52 L589.91 360.97 L590.14 364.87 L590.31 371.33 L590.43 378.46 L590.49 383.44 L590.75 387.00" stroke-dasharray="4.958 1.834"/><path d="M590.75 387.00 L590.95 385.79 L591.01 377.16 L591.06 370.18 L591.12 364.29 L591.18 359.19 L591.24 354.68 L591.29 350.63 L591.41 343.58 L591.53 337.57 L591.64 332.33 L591.76 327.69 L591.87 323.53 L592.04 318.02 L592.22 313.21 L592.39 308.97 L592.62 304.05 L592.85 299.84 L593.14 295.41 L593.49 291.15 L593.95 286.99 L594.70 283.50 L594.99 283.16 L595.22 283.29 L595.80 285.12 L596.37 289.22 L596.78 293.62 L597.07 297.66 L597.36 302.58 L597.59 307.25 L597.76 311.25 L597.93 315.76 L598.11 320.86 L598.28 326.67 L598.40 331.01 L598.51 335.81 L598.63 341.14 L598.74 347.14 L598.86 353.96 L598.97 361.87 L599.03 366.35 L599.09 371.29 L599.15 376.77 L599.20 382.96 L599.55 389.70" stroke-dasharray="5.013 1.855"/><path d="M599.55 389.70 L600.26 389.70" stroke-dasharray="0.705 0.261"/><path d="M600.26 389.70 L600.59 385.60 L600.65 379.17 L600.70 373.52 L600.76 368.47 L600.82 363.91 L600.88 359.74 L600.99 352.36 L601.11 345.98 L601.22 340.36 L601.34 335.37 L601.45 330.89 L601.57 326.84 L601.74 321.45 L601.92 316.74 L602.09 312.62 L602.32 307.88 L602.61 303.00 L602.96 298.41 L603.42 294.11 L604.11 290.93 L604.34 290.68 L604.51 290.75 L604.92 291.82 L605.55 296.21 L605.96 300.95 L606.25 305.44 L606.48 309.79 L606.71 314.96 L606.88 319.45 L607.05 324.57 L607.23 330.45 L607.34 334.86 L607.46 339.74 L607.57 345.18 L607.69 351.30 L607.81 358.26 L607.92 366.31 L607.98 370.85 L608.04 375.82 L608.09 381.31 L608.15 387.45 L608.21 394.41 L608.27 402.47 L608.54 404.20" stroke-dasharray="5.063 1.873"/><path d="M608.54 404.20 L609.00 404.20" stroke-dasharray="0.453 0.168"/><path d="M609.00 404.20 L609.31 399.03 L609.36 391.62 L609.42 385.16 L609.48 379.42 L609.54 374.25 L609.59 369.55 L609.65 365.25 L609.77 357.60 L609.88 350.96 L610.00 345.13 L610.11 339.94 L610.23 335.30 L610.35 331.12 L610.52 325.57 L610.69 320.77 L610.86 316.59 L611.10 311.86 L611.38 307.10 L611.73 302.82 L612.31 298.65 L612.65 297.74 L612.77 297.69 L612.94 297.84 L613.46 299.98 L613.92 304.08 L614.27 308.62 L614.56 313.45 L614.79 318.05 L615.02 323.33 L615.19 327.75 L615.37 332.54 L615.54 337.65 L615.71 342.98 L615.89 348.30 L616.06 353.28 L616.23 357.41 L616.46 360.59 L616.52 360.85 L616.58 360.88 L616.75 359.59 L616.98 355.18 L617.16 350.57 L617.33 345.47 L617.50 340.27 L617.68 335.23 L617.85 330.48 L618.02 326.10 L618.25 320.88 L618.49 316.37 L618.77 311.69 L619.12 307.41 L619.70 303.23 L619.99 302.45 L620.10 302.37 L620.27 302.51 L620.74 304.38 L621.20 308.48 L621.54 313.09 L621.83 317.97 L622.06 322.54 L622.30 327.64 L622.47 331.75 L622.64 335.98 L622.81 340.17 L623.05 345.25 L623.33 349.68 L623.51 350.72 L623.57 350.75 L623.68 350.32 L624.03 345.70 L624.26 340.78 L624.43 336.69 L624.60 332.56 L624.78 328.55 L625.01 323.57 L625.24 319.13 L625.53 314.46 L625.87 310.17 L626.45 306.15 L626.68 305.63 L626.80 305.59 L627.03 305.99 L627.66 310.24 L628.01 314.55 L628.30 319.20 L628.53 323.55 L628.76 328.34 L628.99 333.35 L629.22 338.18 L629.45 342.24 L629.74 345.13 L629.86 345.38 L629.97 345.06 L630.38 340.12 L630.61 335.61 L630.84 330.70 L631.07 325.89 L631.30 321.47 L631.59 316.71 L631.94 312.32 L632.51 308.32 L632.74 307.90 L632.86 307.93 L633.15 308.75 L633.67 312.84 L634.01 317.37 L634.30 322.09 L634.53 326.31 L634.76 330.66 L635.00 334.74 L635.34 339.20 L635.52 340.19 L635.57 340.30 L635.63 340.29 L635.80 339.61 L636.21 334.84 L636.50 329.94 L636.73 325.89 L637.02 321.21 L637.36 316.61 L637.88 312.40 L638.17 311.55 L638.29 311.52 L638.52 311.97 L639.09 316.11 L639.44 320.50 L639.73 325.03 L640.02 329.94 L640.31 334.60 L640.71 338.92 L640.83 339.37 L640.88 339.45 L641.00 339.28 L641.46 335.12 L641.75 330.82 L642.04 326.34 L642.33 322.32 L642.73 318.08 L643.19 315.71 L643.31 315.55 L643.42 315.56 L643.71 316.33 L644.29 320.82 L644.64 324.95 L644.98 329.44 L645.39 333.75 L645.68 335.27 L645.79 335.39 L645.91 335.22 L646.48 330.81 L646.83 326.76 L647.23 322.39 L647.87 318.41 L648.04 318.12 L648.16 318.13 L648.45 318.85 L649.02 322.96 L649.43 327.13 L649.89 331.48 L650.24 333.12 L650.35 333.22 L650.53 332.94 L651.16 328.49 L651.62 324.28 L652.26 320.69 L652.43 320.40 L652.55 320.40 L652.83 321.00 L653.53 325.39 L654.05 329.42 L654.45 331.23 L654.57 331.40 L654.68 331.38 L655.03 330.40 L655.66 326.24 L656.41 322.24 L656.59 321.97 L656.70 321.96 L656.93 322.35 L657.68 326.72 L658.32 330.88 L658.55 331.49 L658.67 331.53 L658.90 331.08 L659.59 327.05 L660.28 323.72 L660.45 323.50 L660.63 323.55 L661.55 327.63 L662.19 330.61 L662.36 330.85 L662.48 330.84 L663.51 326.88 L663.98 325.51 L664.15 325.38 L664.38 325.55 L665.42 329.58 L665.88 330.83 L666.05 330.89 L667.44 327.28 L667.67 327.17 L668.02 327.65 L669.23 331.49 L669.46 331.62 L670.79 329.03 L671.02 329.02 L672.46 332.54 L672.69 332.66 L673.91 330.85 L674.14 330.83 L675.58 333.78 L675.87 333.84 L676.91 332.59 L677.20 332.62 L678.52 335.03 L678.81 335.10 L679.85 334.22 L680.26 334.47 L681.35 336.27 L681.76 336.29 L682.62 335.74 L684.18 337.48 L685.34 337.09 L686.78 338.52 L687.93 338.26 L689.32 339.40 L690.47 339.25 L691.80 340.15 L692.90 340.11 L694.28 340.84 L698.15 342.03 L702.02 343.09 L705.89 344.17 L709.76 345.25 L713.62 346.27 L717.55 347.21 L721.48 348.22 L725.40 349.14 L729.33 350.06 L733.25 350.98 L737.18 351.91 L741.10 352.82 L745.03 353.74 L748.95 354.66 L752.88 355.61 L756.81 356.56 L760.73 357.51 L764.66 358.46 L768.58 359.41 L772.51 360.33 L776.43 361.23 L780.36 362.11 L784.29 362.94 L788.21 363.74 L792.19 364.49 L796.18 365.19 L800.16 365.82 L801.20 365.96" stroke-dasharray="4.988 1.846"/></g>
</g>
<path d="M117.32 512.90V505.70M117.32 19.30V26.50M132.07 512.90V498.60M132.07 19.30V33.60M177.87 512.90V505.70M177.87 19.30V26.50M238.41 512.90V505.70M238.41 19.30V26.50M269.47 512.90V505.70M269.47 19.30V26.50M284.21 512.90V498.60M284.21 19.30V33.60M330.02 512.90V505.70M330.02 19.30V26.50M390.56 512.90V505.70M390.56 19.30V26.50M421.62 512.90V505.70M421.62 19.30V26.50M436.36 512.90V498.60M436.36 19.30V33.60M482.16 512.90V505.70M482.16 19.30V26.50M542.71 512.90V505.70M542.71 19.30V26.50M573.76 512.90V505.70M573.76 19.30V26.50M588.51 512.90V498.60M588.51 19.30V33.60M634.31 512.90V505.70M634.31 19.30V26.50M694.85 512.90V505.70M694.85 19.30V26.50M725.91 512.90V505.70M725.91 19.30V26.50M740.65 512.90V498.60M740.65 19.30V33.60M786.46 512.90V505.70M786.46 19.30V26.50M108.50 491.67H115.70M801.20 491.67H794.00M108.50 463.61H115.70M801.20 463.61H794.00M108.50 449.22H115.70M801.20 449.22H794.00M108.50 442.39H122.80M801.20 442.39H786.90M108.50 421.16H115.70M801.20 421.16H794.00M108.50 393.10H115.70M801.20 393.10H794.00M108.50 378.70H115.70M801.20 378.70H794.00M108.50 371.87H122.80M801.20 371.87H786.90M108.50 350.64H115.70M801.20 350.64H794.00M108.50 322.58H115.70M801.20 322.58H794.00M108.50 308.19H115.70M801.20 308.19H794.00M108.50 301.36H122.80M801.20 301.36H786.90M108.50 280.13H115.70M801.20 280.13H794.00M108.50 252.07H115.70M801.20 252.07H794.00M108.50 237.68H115.70M801.20 237.68H794.00M108.50 230.84H122.80M801.20 230.84H786.90M108.50 209.62H115.70M801.20 209.62H794.00M108.50 181.56H115.70M801.20 181.56H794.00M108.50 167.16H115.70M801.20 167.16H794.00M108.50 160.33H122.80M801.20 160.33H786.90M108.50 139.10H115.70M801.20 139.10H794.00M108.50 111.04H115.70M801.20 111.04H794.00M108.50 96.65H115.70M801.20 96.65H794.00M108.50 89.81H122.80M801.20 89.81H786.90M108.50 68.59H115.70M801.20 68.59H794.00M108.50 40.53H115.70M801.20 40.53H794.00M108.50 26.13H115.70M801.20 26.13H794.00" stroke="#000" stroke-width="2.4" fill="none"/>
<rect x="108.5" y="19.3" width="692.70" height="493.60" fill="none" stroke="#000" stroke-width="2.4"/>
<g id="labels" style="opacity:0.999">
<text transform="translate(98.2,24.70) scale(0.98,1)" text-anchor="end">10</text><text transform="translate(98.2,95.21) scale(0.98,1)" text-anchor="end">1</text><text transform="translate(98.2,165.73) scale(0.98,1)" text-anchor="end">0.1</text><text transform="translate(98.2,236.24) scale(0.98,1)" text-anchor="end">0.01</text><text transform="translate(98.2,306.76) scale(0.98,1)" text-anchor="end">0.001</text><text transform="translate(98.2,377.27) scale(0.98,1)" text-anchor="end">0.0001</text><text transform="translate(98.2,447.79) scale(0.98,1)" text-anchor="end">1e-05</text><text transform="translate(98.2,518.30) scale(0.98,1)" text-anchor="end">1e-06</text><text transform="translate(133.97,535.2) scale(0.98,1)" text-anchor="middle">0.01</text><text transform="translate(286.11,535.2) scale(0.98,1)" text-anchor="middle">0.1</text><text transform="translate(438.26,535.2) scale(0.98,1)" text-anchor="middle">1</text><text transform="translate(590.41,535.2) scale(0.98,1)" text-anchor="middle">10</text><text transform="translate(742.55,535.2) scale(0.98,1)" text-anchor="middle">100</text>
<path d="M330.8 394.9H377.2" stroke="#ff0000" stroke-width="1.7" fill="none"/><text x="321.4" y="400.5" text-anchor="end">CHDM z<tspan dy="4.3" font-size="12.75">decay</tspan><tspan dy="-4.3"> = 10</tspan><tspan dy="-8.6" font-size="13.5">5</tspan><tspan dy="8.6"> k=0.4</tspan></text><path d="M330.8 414.9H377.2" stroke="#ff0000" stroke-width="1.7" fill="none" stroke-dasharray="5.05 1.82"/><text x="321.4" y="420.5" text-anchor="end"><tspan font-family="Liberation Serif">Λ</tspan>CDM k=0.4</text><path d="M330.8 434.9H377.2" stroke="#0000ff" stroke-width="1.7" fill="none"/><text x="321.4" y="440.5" text-anchor="end">CHDM z<tspan dy="4.3" font-size="12.75">decay</tspan><tspan dy="-4.3"> = 10</tspan><tspan dy="-8.6" font-size="13.5">5</tspan><tspan dy="8.6"> k=0.8</tspan></text><path d="M330.8 454.9H377.2" stroke="#0000ff" stroke-width="1.7" fill="none" stroke-dasharray="5.05 1.82"/><text x="321.4" y="460.5" text-anchor="end"><tspan font-family="Liberation Serif">Λ</tspan>CDM k=0.8</text><path d="M330.8 474.9H377.2" stroke="#006400" stroke-width="1.7" fill="none"/><text x="321.4" y="480.5" text-anchor="end">CHDM z<tspan dy="4.3" font-size="12.75">decay</tspan><tspan dy="-4.3"> = 10</tspan><tspan dy="-8.6" font-size="13.5">5</tspan><tspan dy="8.6"> k=6.4</tspan></text><path d="M330.8 494.9H377.2" stroke="#006400" stroke-width="1.7" fill="none" stroke-dasharray="5.05 1.82"/><text x="321.4" y="500.5" text-anchor="end"><tspan font-family="Liberation Serif">Λ</tspan>CDM k=6.4</text>
<text x="455" y="561" text-anchor="middle"><tspan font-family="Liberation Serif">η</tspan>(Mpc<tspan dy="-7" font-size="13">-1</tspan><tspan dy="7">)</tspan></text>
<text transform="translate(18.4,266) rotate(-90)" text-anchor="middle"><tspan font-family="Liberation Serif" font-size="18.5">Φ</tspan>(k, <tspan font-family="Liberation Serif" font-size="17.5">η</tspan>)</text>
</g>
</svg>
</body></html>
